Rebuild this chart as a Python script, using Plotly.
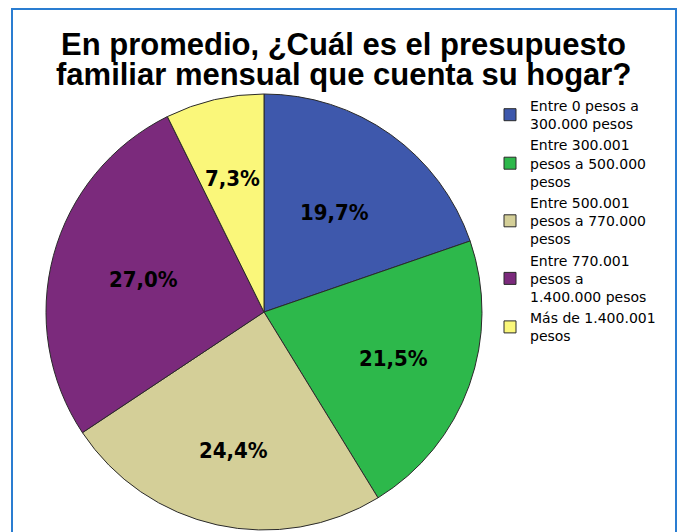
import math
import plotly.graph_objects as go

categories = [
    "Entre 0 pesos a<br>300.000 pesos",
    "Entre 300.001<br>pesos a 500.000<br>pesos",
    "Entre 500.001<br>pesos a 770.000<br>pesos",
    "Entre 770.001<br>pesos a<br>1.400.000 pesos",
    "Más de 1.400.001<br>pesos",
]
values = [19.7, 21.5, 24.4, 27.0, 7.3]
value_labels = ["19,7%", "21,5%", "24,4%", "27,0%", "7,3%"]
title_lines = ["En promedio, ¿Cuál es el presupuesto", "familiar mensual que cuenta su hogar?"]
colors = ["#3E58AC", "#2DB84B", "#D4CF98", "#7B2A7C", "#FAF77A"]

# layout constants (pixels / fractions of radius) - not data
W, H = 685, 532
cx_px, cy_px, r_px = 264, 312, 218
label_radius = [0.56, 0.63, 0.65, 0.57, 0.63]

dom_x = [(cx_px - r_px) / W, (cx_px + r_px) / W]
dom_y = [(H - cy_px - r_px) / H, (H - cy_px + r_px) / H]

LABEL_FONT = "DejaVu Sans Condensed, Liberation Sans Narrow, Arial Narrow, sans-serif"
LEGEND_FONT = "DejaVu Sans, Verdana, sans-serif"
TITLE_FONT = "Liberation Sans, Arial, sans-serif"

fig = go.Figure(go.Pie(
    labels=categories,
    values=values,
    sort=False,
    direction="clockwise",
    rotation=0,
    marker=dict(colors=colors, line=dict(color="#2a2a2a", width=1)),
    textinfo="none",
    hoverinfo="label+percent",
    domain=dict(x=dom_x, y=dom_y),
))

# value labels placed at slice middles
total = sum(values)
cum = 0.0
for v, lab, fr in zip(values, value_labels, label_radius):
    mid = (cum + v / 2) / total * 2 * math.pi
    cum += v
    rr = fr * r_px
    px = cx_px + rr * math.sin(mid)
    py = cy_px - rr * math.cos(mid)
    fig.add_annotation(
        x=px / W, y=(H - py) / H, xref="paper", yref="paper",
        text=f"<b>{lab}</b>", showarrow=False,
        font=dict(family=LABEL_FONT, size=22, color="#000000"),
        xanchor="center", yanchor="middle",
    )

for i, line in enumerate(title_lines):
    fig.add_annotation(
        x=343 / W, y=(H - (44 + 30 * i)) / H, xref="paper", yref="paper",
        text=f"<b>{line}</b>", showarrow=False,
        font=dict(family=TITLE_FONT, size=31, color="#000000"),
        xanchor="center", yanchor="middle",
    )

fig.add_shape(
    type="rect", xref="paper", yref="paper",
    x0=12 / W, x1=676 / W, y0=-0.05, y1=(H - 9) / H,
    line=dict(color="#2A7DD1", width=2),
)

fig.update_layout(
    width=W, height=H,
    margin=dict(l=0, r=0, t=0, b=0),
    paper_bgcolor="white",
    plot_bgcolor="white",
    showlegend=True,
    legend=dict(
        x=490 / W, y=(H - 90) / H, xanchor="left", yanchor="top",
        font=dict(family=LEGEND_FONT, size=14, color="#000000"),
        itemwidth=30,
        bgcolor="rgba(0,0,0,0)",
    ),
)

fig.write_html(
    "out.html",
    config={"displayModeBar": False},
    post_script="document.body.style.margin='0px';document.body.style.overflow='hidden';",
)
